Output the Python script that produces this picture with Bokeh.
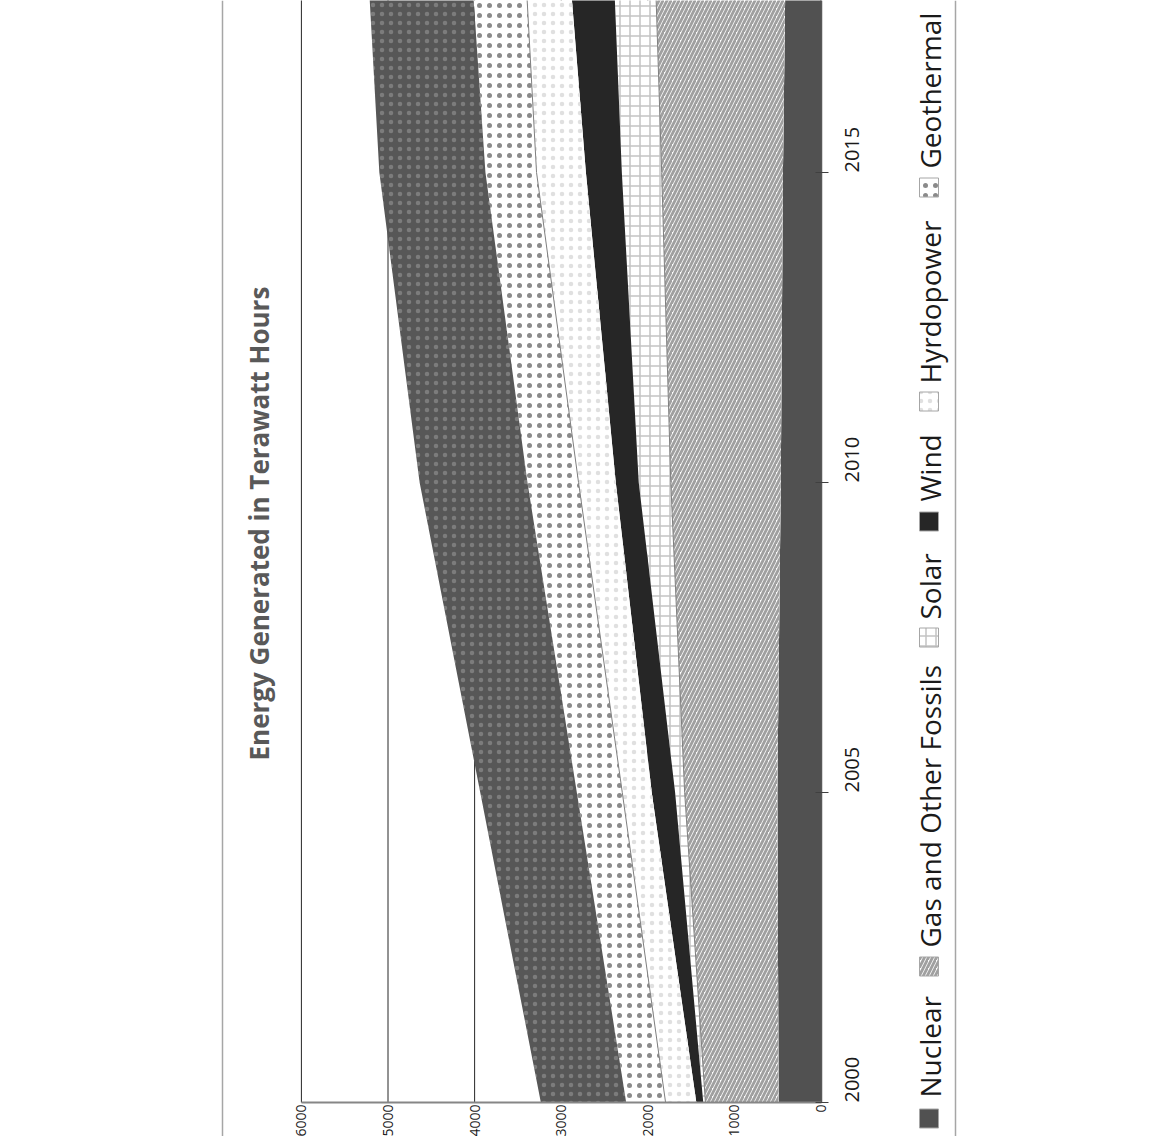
import math
from bokeh.plotting import figure
from bokeh.models import ColumnDataSource, Range1d, FixedTicker
from bokeh.layouts import row
from bokeh.transform import stack
from bokeh.core.properties import value
from bokeh.embed import file_html
from bokeh.resources import INLINE

# ---------------- data ----------------
years = [2000, 2005, 2010, 2015, 2020]
nuclear = [490, 505, 465, 440, 395]
gas_other_fossils = [845, 1070, 1270, 1400, 1560]
solar = [25, 110, 370, 460, 490]
wind = [80, 270, 265, 415, 560]
hydropower = [355, 340, 430, 570, 475]
geothermal = [455, 525, 590, 590, 640]
other = [985, 1115, 1245, 1225, 1180]   # outer layer, its legend entry is cut off

legend_labels = ["Nuclear", "Gas and Other Fossils", "Solar", "Wind",
                 "Hyrdopower", "Geothermal"]
value_ticks = [0, 1000, 2000, 3000, 4000, 5000, 6000]
year_ticks = [2000, 2005, 2010, 2015]
title_text = "Energy Generated in Terawatt Hours"

FONT = "Open Sans"
H = 1136            # canvas height (px)
# layout of the plot area (page pixels)
BASE_PX = 1102      # row of the year-2000 baseline
PX_PER_YEAR = 62.0
ZERO_PX = 820       # column of value 0
PX_PER_UNIT = 87.5 / 1000.0
FRAME_L, FRAME_R = 285, 874
MAIN_L, MAIN_R = 224, 880

Y_START = years[0] - (H - BASE_PX) / PX_PER_YEAR
Y_END = years[0] + BASE_PX / PX_PER_YEAR
X_START = (ZERO_PX - FRAME_L) / PX_PER_UNIT
X_END = (ZERO_PX - FRAME_R) / PX_PER_UNIT

keys = ["nuclear", "gas", "solar", "wind", "hydro", "geo", "other"]
src = ColumnDataSource(dict(year=years, nuclear=nuclear, gas=gas_other_fossils,
                            solar=solar, wind=wind, hydro=hydropower,
                            geo=geothermal, other=other))

styles = {
    "nuclear": dict(fill_color="#515151"),
    "gas": dict(fill_color="white", hatch_pattern="/", hatch_color="#a0a0a0",
                hatch_scale=8, hatch_weight=2.8),
    "solar": dict(fill_color="white", hatch_pattern="+", hatch_color="#c4c4c4",
                  hatch_scale=10, hatch_weight=1.5),
    "wind": dict(fill_color="#262626"),
    "hydro": dict(fill_color="white", hatch_pattern=".", hatch_color="#e0e0e0",
                  hatch_scale=9, hatch_weight=0.2),
    "geo": dict(fill_color="white", hatch_pattern=".", hatch_color="#8a8a8a",
                hatch_scale=10, hatch_weight=4),
    "other": dict(fill_color="#575757", hatch_pattern=".", hatch_color="#ffffff",
                  hatch_alpha=0.22, hatch_scale=9, hatch_weight=0.1),
}

# ---------------- left strip with the chart border ----------------
left = figure(width=MAIN_L, height=H, x_range=Range1d(0, MAIN_L), y_range=Range1d(H, 0),
              output_backend="svg", toolbar_location=None,
              x_axis_type=None, y_axis_type=None, min_border=0)
left.grid.visible = False
left.outline_line_color = None
left.segment(x0=[222], y0=[0], x1=[222], y1=[H], line_color="#a6a6a6", line_width=1.5)

# ---------------- main plot ----------------
p = figure(width=MAIN_R - MAIN_L, height=H, x_range=Range1d(X_START, X_END),
           y_range=Range1d(Y_START, Y_END),
           output_backend="svg", toolbar_location=None, y_axis_location="right",
           title=title_text, title_location="left",
           min_border_left=FRAME_L - MAIN_L, min_border_right=MAIN_R - FRAME_R,
           min_border_top=0, min_border_bottom=0)
p.outline_line_color = None
p.grid.visible = False

# value gridlines, from the baseline upward (behind the areas)
p.segment(x0=value_ticks, y0=[years[0]] * len(value_ticks), x1=value_ticks,
          y1=[years[-1]] * len(value_ticks), line_color="#262626", line_width=1)

for i, k in enumerate(keys):
    p.harea(x1=stack(*keys[:i]), x2=stack(*keys[:i + 1]), y="year", source=src, **styles[k])

for i in (1, 4):
    p.line(x=stack(*keys[:i + 1]), y="year", source=src, line_color="#7f7f7f", line_width=1)

p.title.text_font = FONT
p.title.text_font_style = "bold"
p.title.text_font_size = "26px"
p.title.text_color = "#595959"
p.title.align = "left"
p.title.offset = H - 760
p.title.standoff = 29

p.xaxis.fixed_location = years[0]
p.xaxis.bounds = (value_ticks[0], value_ticks[-1])
p.xaxis.ticker = FixedTicker(ticks=value_ticks)
p.xaxis.major_label_orientation = math.pi / 2
p.xaxis.major_label_text_font = FONT
p.xaxis.major_label_text_font_size = "14px"
p.xaxis.major_label_text_color = "#1a1a1a"
p.xaxis.major_label_standoff = 2
p.xaxis.major_tick_in = 0
p.xaxis.major_tick_out = 0
p.xaxis.minor_tick_line_color = None
p.xaxis.axis_line_color = "#868686"
p.xaxis.axis_line_width = 2

p.yaxis.fixed_location = 0
p.yaxis.ticker = FixedTicker(ticks=year_ticks)
p.yaxis.bounds = (years[0], years[-1])
p.yaxis.major_label_orientation = math.pi / 2
p.yaxis.major_label_text_font = FONT
p.yaxis.major_label_text_font_size = "20px"
p.yaxis.major_label_text_color = "#1a1a1a"
p.yaxis.major_label_standoff = 24
p.yaxis.major_tick_in = 6
p.yaxis.major_tick_out = 7
p.yaxis.major_tick_line_color = "#404040"
p.yaxis.minor_tick_line_color = None
p.yaxis.axis_line_color = "#595959"
p.yaxis.axis_line_width = 1.5

# ---------------- legend strip ----------------
lg = figure(width=120, height=H, x_range=Range1d(MAIN_R, MAIN_R + 120), y_range=Range1d(H, 0),
            output_backend="svg", toolbar_location=None,
            x_axis_type=None, y_axis_type=None, min_border=0)
lg.grid.visible = False
lg.outline_line_color = None
lg.segment(x0=[955], y0=[0], x1=[955], y1=[H], line_color="#a6a6a6", line_width=1.5)

text_start = [1097, 947, 619, 501, 383, 168]
swatch_mid = [1118, 966, 637, 521, 401, 187]
for lab, k, sy in zip(legend_labels, keys, swatch_mid):
    lg.rect(x=[928.5], y=[sy], width=19, height=19, line_color="#a6a6a6", line_width=1,
            **styles[k])
lg.text(x=[929] * len(legend_labels), y=text_start, text=legend_labels, angle=math.pi / 2,
        text_align="left", text_baseline="middle", text_font=value(FONT),
        text_font_size="28px", text_color="#1a1a1a")

layout = row(left, p, lg)
open("out.html", "w").write(file_html(layout, INLINE))
